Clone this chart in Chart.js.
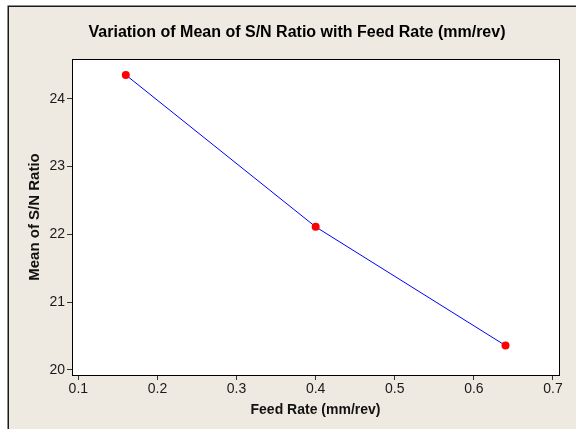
<!DOCTYPE html>
<html>
<head>
<meta charset="utf-8">
<script src="https://cdn.jsdelivr.net/npm/chart.js@4/dist/chart.umd.min.js"></script>
<style>
  html, body { margin: 0; padding: 0; background: #ffffff; }
  canvas { display: block; }
</style>
</head>
<body>
<canvas id="c" width="576" height="429"></canvas>
<script>
// ---- data ----
const feedRate = [0.16, 0.40, 0.64];
const meanSN = [24.35, 22.11, 20.36];
const xTicks = [0.1, 0.2, 0.3, 0.4, 0.5, 0.6, 0.7];
const xTickLabels = ['0.1', '0.2', '0.3', '0.4', '0.5', '0.6', '0.7'];
const yTicks = [20, 21, 22, 23, 24];
const yTickLabels = ['20', '21', '22', '23', '24'];
const chartTitle = 'Variation of Mean of S/N Ratio with Feed Rate (mm/rev)';
const xTitle = 'Feed Rate (mm/rev)';
const yTitle = 'Mean of S/N Ratio';

const FONT = '"Liberation Sans", Arial, sans-serif';

const framePlugin = {
  id: 'frame',
  beforeDraw(chart) {
    const ctx = chart.ctx;
    ctx.save();
    ctx.fillStyle = '#ffffff';
    ctx.fillRect(0, 0, chart.width, chart.height);
    ctx.fillStyle = '#1a1a1a';
    ctx.fillRect(7.5, 5.5, chart.width, chart.height);
    ctx.fillStyle = '#eeeae1';
    ctx.fillRect(9, 7, chart.width, chart.height);
    const a = chart.chartArea;
    ctx.fillStyle = '#ffffff';
    ctx.fillRect(a.left, a.top, a.right - a.left, a.bottom - a.top);
    ctx.restore();
  },
  afterDraw(chart) {
    const ctx = chart.ctx;
    const a = chart.chartArea;
    ctx.save();
    ctx.strokeStyle = '#000000';
    ctx.lineWidth = 1;
    ctx.strokeRect(Math.round(a.left) + 0.5, Math.round(a.top) + 0.5,
                   Math.round(a.right - a.left), Math.round(a.bottom - a.top));
    ctx.fillStyle = '#000000';
    ctx.font = 'bold 16px ' + FONT;
    ctx.textAlign = 'center';
    ctx.textBaseline = 'middle';
    ctx.fillText(chartTitle, 297, 33);
    ctx.restore();
  }
};

new Chart(document.getElementById('c'), {
  type: 'line',
  data: {
    datasets: [{
      data: feedRate.map((x, i) => ({ x: x, y: meanSN[i] })),
      borderColor: '#0000ff',
      borderWidth: 1,
      pointBackgroundColor: '#ff0000',
      pointBorderColor: '#ff0000',
      pointRadius: 4,
      pointBorderWidth: 0,
      tension: 0,
      fill: false
    }]
  },
  options: {
    responsive: false,
    animation: false,
    devicePixelRatio: 1,
    layout: { padding: { left: 26, right: 17, top: 59, bottom: 10 } },
    plugins: {
      legend: { display: false },
      title: { display: false },
      tooltip: { enabled: false }
    },
    scales: {
      x: {
        type: 'linear',
        min: 0.092,
        max: 0.7076,
        afterBuildTicks(scale) { scale.ticks = xTicks.map(v => ({ value: v })); },
        afterFit(scale) { scale.height = 44; },
        ticks: {
          color: '#1a1a1a',
          font: { family: FONT, size: 14 },
          padding: 1,
          maxRotation: 0,
          autoSkip: false,
          callback: (v, i) => xTickLabels[i]
        },
        grid: { drawOnChartArea: false, drawTicks: true, tickLength: 5, color: '#333333' },
        border: { display: true, color: '#000000', width: 1 },
        title: {
          display: true,
          text: xTitle,
          color: '#111111',
          font: { family: FONT, size: 14, weight: 'bold' },
          padding: { top: 0, bottom: 0 }
        }
      },
      y: {
        type: 'linear',
        min: 19.926,
        max: 24.585,
        afterBuildTicks(scale) { scale.ticks = yTicks.map(v => ({ value: v })); },
        afterFit(scale) { scale.width = 46; },
        ticks: {
          color: '#1a1a1a',
          font: { family: FONT, size: 14 },
          padding: 2,
          autoSkip: false,
          callback: (v, i) => yTickLabels[i]
        },
        grid: { drawOnChartArea: false, drawTicks: true, tickLength: 5, color: '#333333' },
        border: { display: true, color: '#000000', width: 1 },
        title: {
          display: true,
          text: yTitle,
          color: '#111111',
          font: { family: FONT, size: 15, weight: 'bold' },
          padding: { top: 0, bottom: 0 }
        }
      }
    }
  },
  plugins: [framePlugin]
});
</script>
</body>
</html>
